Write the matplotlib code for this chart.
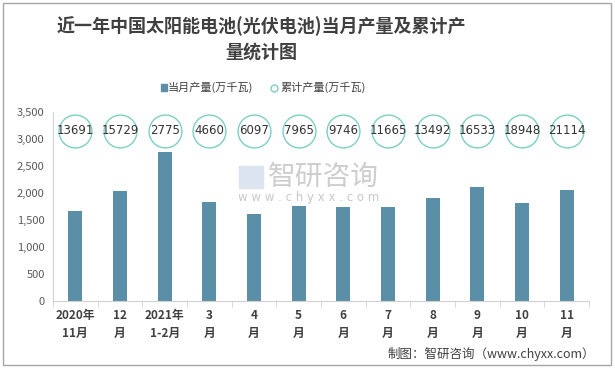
import matplotlib

matplotlib.use("Agg")
import matplotlib.pyplot as plt
from matplotlib.lines import Line2D
from matplotlib.patches import Rectangle
import numpy as np

plt.rcParams["font.family"] = ["Noto Sans CJK SC", "DejaVu Sans"]

# data
months = ["2020年\n11月", "12\n月", "2021年\n1-2月", "3\n月", "4\n月", "5\n月",
          "6\n月", "7\n月", "8\n月", "9\n月", "10\n月", "11\n月"]
monthly = [1670, 2030, 2760, 1836, 1614, 1762, 1743, 1743, 1910, 2113, 1817, 2058]
cumulative = [13691, 15729, 2775, 4660, 6097, 7965, 9746, 11665, 13492, 16533, 18948, 21114]
circle_level = 3150  # where the cumulative bubbles sit on the y scale

bar_color = "#5b8fa8"
circle_edge = "#7ccfc6"
text_color = "#404040"

fig = plt.figure(figsize=(6.15, 3.68), dpi=100)
ax = fig.add_axes([53 / 615, 1 - 301 / 368, (589 - 53) / 615, (301 - 112) / 368])

x = np.arange(len(months))
ax.bar(x, monthly, width=0.31, color=bar_color, zorder=2)
ax.scatter(x, [circle_level] * len(x), s=560, facecolor="white",
           edgecolor=circle_edge, linewidth=1.0, zorder=3, clip_on=False)
for xi, v in zip(x, cumulative):
    ax.text(xi, circle_level, str(v), ha="center", va="center",
            fontsize=8.5, color="#333333", zorder=4, family="DejaVu Sans")

ax.set_xlim(-0.5, len(x) - 0.5)
ax.set_ylim(0, 3500)
ax.set_yticks(np.arange(0, 3501, 500))
ax.set_yticklabels([f"{v:,}" for v in range(0, 3501, 500)])
ax.tick_params(axis="y", length=0, labelsize=8, labelcolor="#595959", pad=6)

ax.set_xticks(x)
ax.set_xticklabels(months, fontsize=8.5, fontweight="bold", color=text_color, linespacing=1.5)
ax.tick_params(axis="x", length=0, pad=6)
ax.set_xticks(np.arange(-0.5, len(x), 1), minor=True)
ax.tick_params(axis="x", which="minor", length=4, color="#d0d0d0")

for s in ["top", "right"]:
    ax.spines[s].set_visible(False)
ax.spines["left"].set_color("#d0d0d0")
ax.spines["bottom"].set_color("#d0d0d0")

# title
cx = 261 / 615
fig.text(cx, 1 - 26 / 368, "近一年中国太阳能电池(光伏电池)当月产量及累计产",
         ha="center", va="center", fontsize=13, fontweight="bold", color=text_color)
fig.text(cx, 1 - 52 / 368, "量统计图",
         ha="center", va="center", fontsize=13, fontweight="bold", color=text_color)

# legend
fig.patches.append(Rectangle((161 / 615, 1 - 91 / 368), 6 / 615, 7 / 368,
                             transform=fig.transFigure, color=bar_color))
fig.text(168 / 615, 1 - 87.5 / 368, "当月产量(万千瓦)", va="center", fontsize=8, color=text_color)
fig.lines.append(Line2D([274 / 615], [1 - 87.5 / 368], transform=fig.transFigure, marker="o",
                        markersize=5, markerfacecolor="white", markeredgecolor=circle_edge,
                        markeredgewidth=1))
fig.text(280 / 615, 1 - 87.5 / 368, "累计产量(万千瓦)", va="center", fontsize=8, color=text_color)

# watermark
fig.text(268 / 615, 1 - 177 / 368, "智研咨询", va="center", fontsize=20, color="#c8c8c8", alpha=0.9)
fig.text(238 / 615, 1 - 197 / 368, "w w w . c h y x x . c o m", va="center", fontsize=8.5,
         color="#c8c8c8", family="DejaVu Sans")
fig.patches.append(Rectangle((239 / 615, 1 - 188 / 368), 24 / 615, 22 / 368,
                             transform=fig.transFigure, color="#dbe4ef"))

# source
fig.text(595 / 615, 1 - 354 / 368, "制图：智研咨询（www.chyxx.com）", ha="right", va="center",
         fontsize=9, color=text_color)

# outer border
fig.patches.append(Rectangle((3 / 615, 3 / 368), 608 / 615, 362 / 368, transform=fig.transFigure,
                             fill=False, edgecolor="#a6a6a6", linewidth=1))

fig.savefig("out.png", dpi=100)
plt.close(fig)
